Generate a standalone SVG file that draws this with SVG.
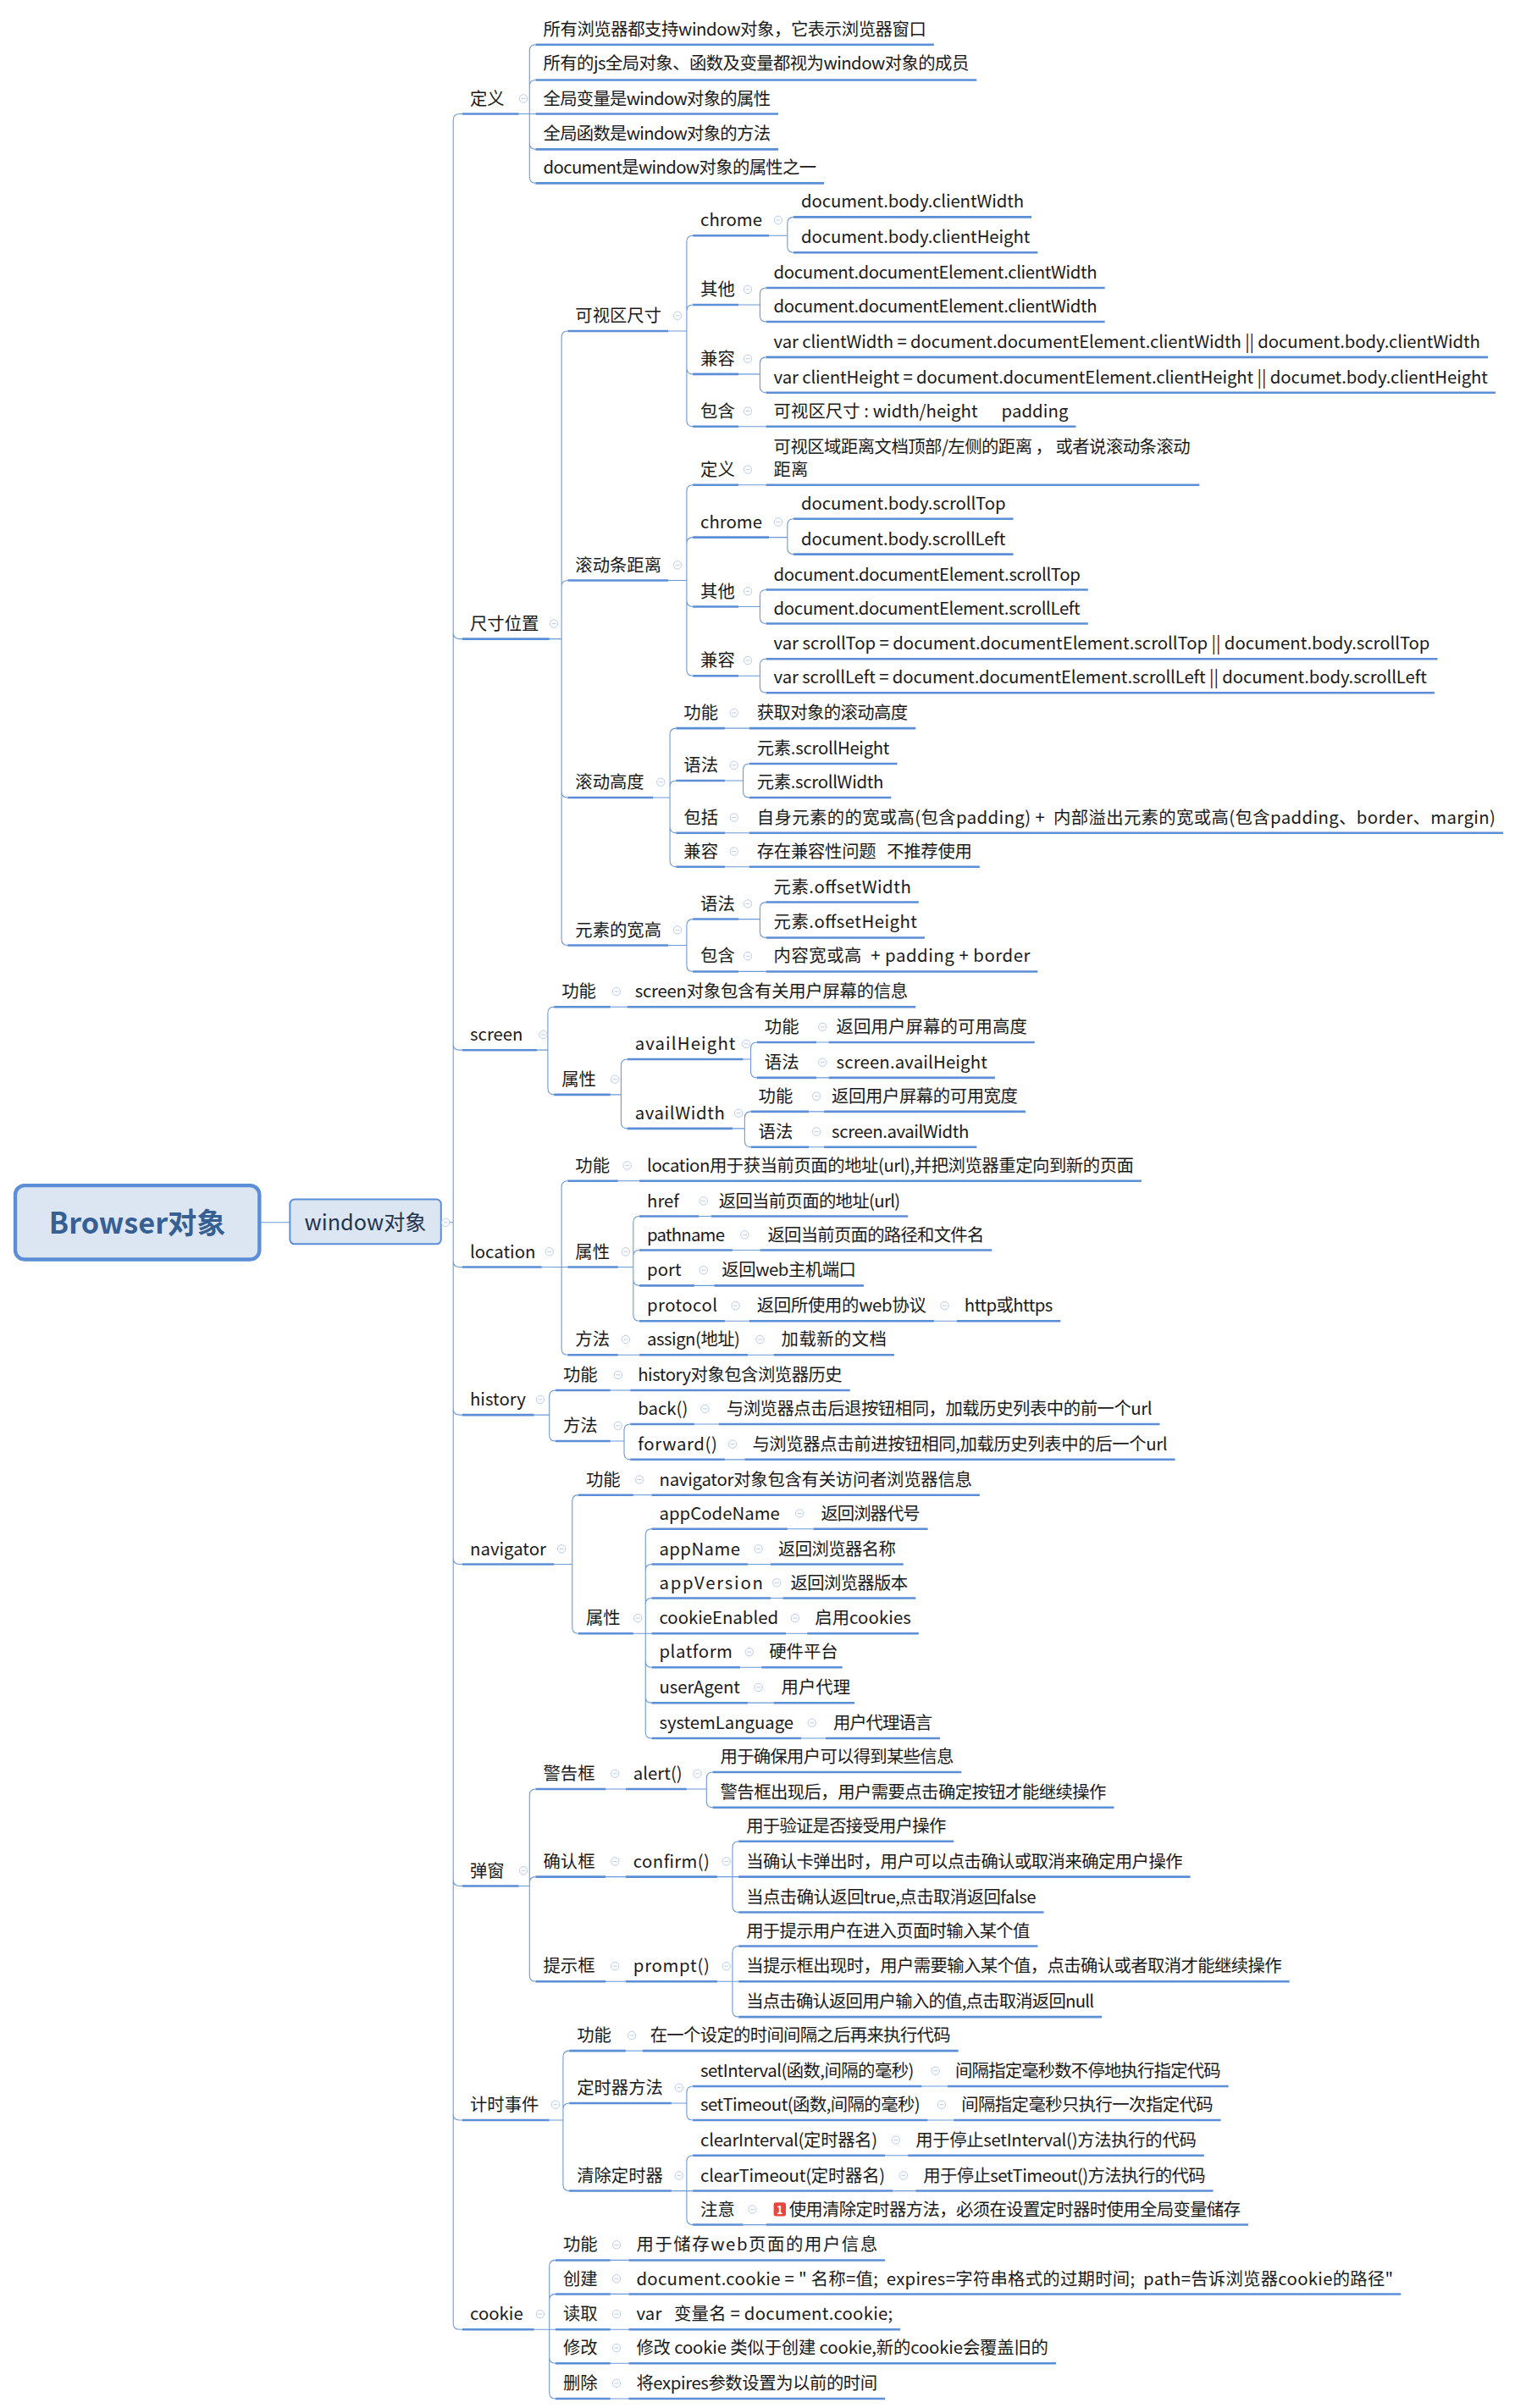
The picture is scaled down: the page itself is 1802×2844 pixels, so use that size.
<svg xmlns="http://www.w3.org/2000/svg" xmlns:xlink="http://www.w3.org/1999/xlink" width="1802" height="2844" viewBox="0 0 1802 2844">
<style>
text{font-family:"Noto Sans CJK SC","Noto Sans",sans-serif;font-size:11.3px;fill:#1a1a1a;white-space:pre}
.u{stroke:#5b8ed6;stroke-width:1.4;fill:none}
.k path{stroke:#6a98d8;stroke-width:.6;fill:none}
.c{fill:#fff;stroke:#b3c5ea;stroke-width:.5}
</style>
<defs>
<g id="m"><circle class="c" r="2.6"/><path d="M-1.4 0H1.4" stroke="#b3c5ea" stroke-width=".5"/></g>
</defs>
<rect width="1802" height="2844" fill="#fff"/>
<g transform="scale(1.802 1.8184)">
<g class="k" id="connectors">
<path d="M170 794H190"/>
<path d="M289 794H297V78Q297 74 301 74H303M297 794V411Q297 415 301 415H303M297 794V678Q297 682 301 682H303M297 794V819Q297 823 301 823H303M297 794V915Q297 919 301 919H303M297 794V1012Q297 1016 301 1016H303M297 794V1221Q297 1225 301 1225H303M297 794V1373Q297 1377 301 1377H303M297 794V1509Q297 1513 301 1513H303"/>
<path d="M340 74H347V33Q347 29 351 29M347 74V56Q347 52 351 52M340 74H351M347 74V93Q347 97 351 97M347 74V115Q347 119 351 119"/>
<path d="M360 415H368V219Q368 215 372 215M368 415V381Q368 377 372 377M368 415V514Q368 518 372 518M368 415V610Q368 614 372 614"/>
<path d="M438 215H450V157Q450 153 454 153M450 215V202Q450 198 454 198M450 215V239Q450 243 454 243M450 215V273Q450 277 454 277"/>
<path d="M504 153H516V145Q516 141 520 141M516 153V160Q516 164 520 164"/>
<path d="M484 198H498V191Q498 187 502 187M498 198V205Q498 209 502 209"/>
<path d="M484 243H498V236Q498 232 502 232M498 243V251Q498 255 502 255"/>
<path d="M484 277H502"/>
<path d="M438 377H450V319Q450 315 454 315M450 377V353Q450 349 454 349M450 377V390Q450 394 454 394M450 377V435Q450 439 454 439"/>
<path d="M484 315H502"/>
<path d="M504 349H516V341Q516 337 520 337M516 349V356Q516 360 520 360"/>
<path d="M484 394H498V387Q498 383 502 383M498 394V401Q498 405 502 405"/>
<path d="M484 439H498V432Q498 428 502 428M498 439V446Q498 450 502 450"/>
<path d="M428 518H439V477Q439 473 443 473M439 518V511Q439 507 443 507M439 518V537Q439 541 443 541M439 518V559Q439 563 443 563"/>
<path d="M475 473H491M475 541H491M475 563H491"/>
<path d="M475 507H487V500Q487 496 491 496M487 507V514Q487 518 491 518"/>
<path d="M438 614H450V601Q450 597 454 597M450 614V627Q450 631 454 631"/>
<path d="M484 597H498V590Q498 586 502 586M498 597V605Q498 609 502 609"/>
<path d="M484 631H502"/>
<path d="M352 682H359V658Q359 654 363 654M359 682V707Q359 711 363 711"/>
<path d="M400 654H411"/>
<path d="M400 711H407V692Q407 688 411 688M407 711V729Q407 733 411 733"/>
<path d="M487 688H492V681Q492 677 496 677M492 688V696Q492 700 496 700"/>
<path d="M535 677H543M535 700H543"/>
<path d="M480 733H488V726Q488 722 492 722M488 733V741Q488 745 492 745"/>
<path d="M530 722H540M530 745H540"/>
<path d="M355 823H368V771Q368 767 372 767M355 823H372M368 823V876Q368 880 372 880"/>
<path d="M405 767H419"/>
<path d="M405 823H415V794Q415 790 419 790M415 823V816Q415 812 419 812M415 823V831Q415 835 419 835M415 823V854Q415 858 419 858"/>
<path d="M458 790H466M480 812H498M455 835H468M475 858H491M612 858H627"/>
<path d="M405 880H419M490 880H507"/>
<path d="M350 919H360V907Q360 903 364 903M360 919V932Q360 936 364 936"/>
<path d="M400 903H413"/>
<path d="M400 936H409V929Q409 925 413 925M409 936V944Q409 948 413 948"/>
<path d="M455 925H471M475 948H488"/>
<path d="M363 1016H375V975Q375 971 379 971M375 1016V1057Q375 1061 379 1061"/>
<path d="M415 971H427"/>
<path d="M415 1061H423V997Q423 993 427 993M423 1061V1020Q423 1016 427 1016M423 1061V1042Q423 1038 427 1038M415 1061H427M423 1061V1079Q423 1083 427 1083M423 1061V1102Q423 1106 427 1106M423 1061V1125Q423 1129 427 1129"/>
<path d="M516 993H533M490 1016H505M505 1038H513M515 1061H529M485 1083H499M490 1106H507M525 1129H541"/>
<path d="M340 1225H347V1166Q347 1162 351 1162M347 1225V1223Q347 1219 351 1219M347 1225V1283Q347 1287 351 1287"/>
<path d="M397 1162H410M397 1219H410M397 1287H410"/>
<path d="M450 1162H463V1155Q463 1151 467 1151M463 1162V1170Q463 1174 467 1174"/>
<path d="M470 1219H480V1200Q480 1196 484 1196M470 1219H484M480 1219V1238Q480 1242 484 1242"/>
<path d="M470 1287H480V1268Q480 1264 484 1264M470 1287H484M480 1287V1306Q480 1310 484 1310"/>
<path d="M360 1377H369V1336Q369 1332 373 1332M369 1377V1370Q369 1366 373 1366M369 1377V1419Q369 1423 373 1423"/>
<path d="M410 1332H421"/>
<path d="M440 1366H450V1359Q450 1355 454 1355M450 1366V1373Q450 1377 454 1377"/>
<path d="M604 1355H621M608 1377H625"/>
<path d="M440 1423H450V1404Q450 1400 454 1400M440 1423H454M450 1423V1441Q450 1445 454 1445"/>
<path d="M580 1400H595M585 1423H600M487 1445H502"/>
<path d="M350 1513H360V1472Q360 1468 364 1468M360 1513V1494Q360 1490 364 1490M350 1513H364M360 1513V1531Q360 1535 364 1535M360 1513V1554Q360 1558 364 1558"/>
<path d="M400 1468H412M400 1490H412M400 1513H412M400 1535H412M400 1558H412"/>
</g>

<g id="root"><rect x="10" y="770" width="160" height="48" rx="6" fill="#dce6f2" stroke="#5b8ed6" stroke-width="2.4"/><text x="90" y="801" text-anchor="middle" style="font-size:19px;font-weight:bold;fill:#365f93">Browser对象</text></g>
<g id="window"><rect x="190" y="779" width="99" height="29" rx="3" fill="#dce6f2" stroke="#5b8ed6" stroke-width="1.1"/><text x="239.5" y="799" text-anchor="middle" style="font-size:14px;fill:#1f3550">window对象</text><use href="#m" x="292" y="794"/></g>

<g id="dingyi"><text x="308" y="68">定义</text><path class="u" d="M303 74H340"/><use href="#m" x="343" y="64"/></g>
<g id="d1"><text x="356" y="23" textLength="251">所有浏览器都支持window对象，它表示浏览器窗口</text><path class="u" d="M351 29H612"/></g>
<g id="d2"><text x="356" y="45" textLength="279">所有的js全局对象、函数及变量都视为window对象的成员</text><path class="u" d="M351 52H640"/></g>
<g id="d3"><text x="356" y="68" textLength="149">全局变量是window对象的属性</text><path class="u" d="M351 74H510"/></g>
<g id="d4"><text x="356" y="91" textLength="149">全局函数是window对象的方法</text><path class="u" d="M351 97H510"/></g>
<g id="d5"><text x="356" y="113" textLength="179">document是window对象的属性之一</text><path class="u" d="M351 119H540"/></g>

<g id="chicun"><text x="308" y="409">尺寸位置</text><path class="u" d="M303 415H360"/><use href="#m" x="363" y="405"/></g>
<g id="kszc"><text x="377" y="209">可视区尺寸</text><path class="u" d="M372 215H438"/><use href="#m" x="444" y="205"/></g>
<g id="k1"><text x="459" y="147">chrome</text><path class="u" d="M454 153H504"/><use href="#m" x="510" y="143"/></g>
<g id="k1a"><text x="525" y="135" textLength="146">document.body.clientWidth</text><path class="u" d="M520 141H676"/></g>
<g id="k1b"><text x="525" y="158" textLength="150">document.body.clientHeight</text><path class="u" d="M520 164H680"/></g>
<g id="k2"><text x="459" y="192">其他</text><path class="u" d="M454 198H484"/><use href="#m" x="490" y="188"/></g>
<g id="k2a"><text x="507" y="181" textLength="212">document.documentElement.clientWidth</text><path class="u" d="M502 187H724"/></g>
<g id="k2b"><text x="507" y="203" textLength="212">document.documentElement.clientWidth</text><path class="u" d="M502 209H724"/></g>
<g id="k3"><text x="459" y="237">兼容</text><path class="u" d="M454 243H484"/><use href="#m" x="490" y="233"/></g>
<g id="k3a"><text x="507" y="226" textLength="463">var clientWidth = document.documentElement.clientWidth || document.body.clientWidth</text><path class="u" d="M502 232H975"/></g>
<g id="k3b"><text x="507" y="249" textLength="468">var clientHeight = document.documentElement.clientHeight || documet.body.clientHeight</text><path class="u" d="M502 255H980"/></g>
<g id="k4"><text x="459" y="271">包含</text><path class="u" d="M454 277H484"/><use href="#m" x="490" y="267"/></g>
<g id="k4a"><text x="507" y="271" textLength="193">可视区尺寸 : width/height      padding</text><path class="u" d="M502 277H705"/></g>

<g id="gdtjl"><text x="377" y="371">滚动条距离</text><path class="u" d="M372 377H438"/><use href="#m" x="444" y="367"/></g>
<g id="g1"><text x="459" y="309">定义</text><path class="u" d="M454 315H484"/><use href="#m" x="490" y="305"/></g>
<g id="g1a"><text x="507" y="294" textLength="273">可视区域距离文档顶部/左侧的距离 ， 或者说滚动条滚动</text><text x="507" y="309">距离</text><path class="u" d="M502 315H786"/></g>
<g id="g2"><text x="459" y="343">chrome</text><path class="u" d="M454 349H504"/><use href="#m" x="510" y="339"/></g>
<g id="g2a"><text x="525" y="331" textLength="134">document.body.scrollTop</text><path class="u" d="M520 337H664"/></g>
<g id="g2b"><text x="525" y="354" textLength="134">document.body.scrollLeft</text><path class="u" d="M520 360H664"/></g>
<g id="g3"><text x="459" y="388">其他</text><path class="u" d="M454 394H484"/><use href="#m" x="490" y="384"/></g>
<g id="g3a"><text x="507" y="377" textLength="201">document.documentElement.scrollTop</text><path class="u" d="M502 383H713"/></g>
<g id="g3b"><text x="507" y="399" textLength="201">document.documentElement.scrollLeft</text><path class="u" d="M502 405H713"/></g>
<g id="g4"><text x="459" y="433">兼容</text><path class="u" d="M454 439H484"/><use href="#m" x="490" y="429"/></g>
<g id="g4a"><text x="507" y="422" textLength="430">var scrollTop = document.documentElement.scrollTop || document.body.scrollTop</text><path class="u" d="M502 428H942"/></g>
<g id="g4b"><text x="507" y="444" textLength="428">var scrollLeft = document.documentElement.scrollLeft || document.body.scrollLeft</text><path class="u" d="M502 450H940"/></g>

<g id="gdgd"><text x="377" y="512">滚动高度</text><path class="u" d="M372 518H428"/><use href="#m" x="433" y="508"/></g>
<g id="h1"><text x="448" y="467">功能</text><path class="u" d="M443 473H475"/><use href="#m" x="481" y="463"/></g>
<g id="h1a"><text x="496" y="467" textLength="99">获取对象的滚动高度</text><path class="u" d="M491 473H600"/></g>
<g id="h2"><text x="448" y="501">语法</text><path class="u" d="M443 507H475"/><use href="#m" x="481" y="497"/></g>
<g id="h2a"><text x="496" y="490" textLength="87">元素.scrollHeight</text><path class="u" d="M491 496H588"/></g>
<g id="h2b"><text x="496" y="512" textLength="83">元素.scrollWidth</text><path class="u" d="M491 518H584"/></g>
<g id="h3"><text x="448" y="535">包括</text><path class="u" d="M443 541H475"/><use href="#m" x="481" y="531"/></g>
<g id="h3a"><text x="496" y="535" textLength="484">自身元素的的宽或高(包含padding) +  内部溢出元素的宽或高(包含padding、border、margin)</text><path class="u" d="M491 541H985"/></g>
<g id="h4"><text x="448" y="557">兼容</text><path class="u" d="M443 563H475"/><use href="#m" x="481" y="553"/></g>
<g id="h4a"><text x="496" y="557" textLength="141">存在兼容性问题   不推荐使用</text><path class="u" d="M491 563H642"/></g>

<g id="ysdkg"><text x="377" y="608">元素的宽高</text><path class="u" d="M372 614H438"/><use href="#m" x="444" y="604"/></g>
<g id="o1"><text x="459" y="591">语法</text><path class="u" d="M454 597H484"/><use href="#m" x="490" y="587"/></g>
<g id="o1a"><text x="507" y="580" textLength="90">元素.offsetWidth</text><path class="u" d="M502 586H602"/></g>
<g id="o1b"><text x="507" y="603" textLength="94">元素.offsetHeight</text><path class="u" d="M502 609H606"/></g>
<g id="o2"><text x="459" y="625">包含</text><path class="u" d="M454 631H484"/><use href="#m" x="490" y="621"/></g>
<g id="o2a"><text x="507" y="625" textLength="168">内容宽或高  + padding + border</text><path class="u" d="M502 631H680"/></g>

<g id="screen"><text x="308" y="676">screen</text><path class="u" d="M303 682H352"/><use href="#m" x="356" y="672"/></g>
<g id="s1"><text x="368" y="648">功能</text><path class="u" d="M363 654H400"/><use href="#m" x="404" y="644"/></g>
<g id="s1a"><text x="416" y="648" textLength="179">screen对象包含有关用户屏幕的信息</text><path class="u" d="M411 654H600"/></g>
<g id="s2"><text x="368" y="705">属性</text><path class="u" d="M363 711H400"/><use href="#m" x="403" y="701"/></g>
<g id="ah"><text x="416" y="682" textLength="66">availHeight</text><path class="u" d="M411 688H487"/><use href="#m" x="489" y="678"/></g>
<g id="ah1"><text x="501" y="671">功能</text><path class="u" d="M496 677H535"/><use href="#m" x="539" y="667"/></g>
<g id="ah1a"><text x="548" y="671" textLength="125">返回用户屏幕的可用高度</text><path class="u" d="M543 677H678"/></g>
<g id="ah2"><text x="501" y="694">语法</text><path class="u" d="M496 700H535"/><use href="#m" x="539" y="690"/></g>
<g id="ah2a"><text x="548" y="694" textLength="99">screen.availHeight</text><path class="u" d="M543 700H652"/></g>
<g id="aw"><text x="416" y="727" textLength="59">availWidth</text><path class="u" d="M411 733H480"/><use href="#m" x="484" y="723"/></g>
<g id="aw1"><text x="497" y="716">功能</text><path class="u" d="M492 722H530"/><use href="#m" x="535" y="712"/></g>
<g id="aw1a"><text x="545" y="716" textLength="122">返回用户屏幕的可用宽度</text><path class="u" d="M540 722H672"/></g>
<g id="aw2"><text x="497" y="739">语法</text><path class="u" d="M492 745H530"/><use href="#m" x="535" y="735"/></g>
<g id="aw2a"><text x="545" y="739" textLength="90">screen.availWidth</text><path class="u" d="M540 745H640"/></g>

<g id="location"><text x="308" y="817">location</text><path class="u" d="M303 823H355"/><use href="#m" x="360" y="813"/></g>
<g id="l1"><text x="377" y="761">功能</text><path class="u" d="M372 767H405"/><use href="#m" x="411" y="757"/></g>
<g id="l1a"><text x="424" y="761" textLength="319">location用于获当前页面的地址(url),并把浏览器重定向到新的页面</text><path class="u" d="M419 767H748"/></g>
<g id="l2"><text x="377" y="817">属性</text><path class="u" d="M372 823H405"/><use href="#m" x="410" y="813"/></g>
<g id="href"><text x="424" y="784">href</text><path class="u" d="M419 790H458"/><use href="#m" x="461" y="780"/></g>
<g id="hrefa"><text x="471" y="784" textLength="119">返回当前页面的地址(url)</text><path class="u" d="M466 790H595"/></g>
<g id="pathname"><text x="424" y="806" textLength="51">pathname</text><path class="u" d="M419 812H480"/><use href="#m" x="488" y="802"/></g>
<g id="pathnamea"><text x="503" y="806" textLength="142">返回当前页面的路径和文件名</text><path class="u" d="M498 812H650"/></g>
<g id="port"><text x="424" y="829">port</text><path class="u" d="M419 835H455"/><use href="#m" x="461" y="825"/></g>
<g id="porta"><text x="473" y="829" textLength="88">返回web主机端口</text><path class="u" d="M468 835H566"/></g>
<g id="protocol"><text x="424" y="852" textLength="46">protocol</text><path class="u" d="M419 858H475"/><use href="#m" x="482" y="848"/></g>
<g id="protocola"><text x="496" y="852" textLength="111">返回所使用的web协议</text><path class="u" d="M491 858H612"/><use href="#m" x="619" y="848"/></g>
<g id="protocolb"><text x="632" y="852" textLength="58">http或https</text><path class="u" d="M627 858H695"/></g>
<g id="l3"><text x="377" y="874">方法</text><path class="u" d="M372 880H405"/><use href="#m" x="410" y="870"/></g>
<g id="assign"><text x="424" y="874" textLength="61">assign(地址)</text><path class="u" d="M419 880H490"/><use href="#m" x="498" y="870"/></g>
<g id="assigna"><text x="512" y="874" textLength="69">加载新的文档</text><path class="u" d="M507 880H586"/></g>

<g id="history"><text x="308" y="913">history</text><path class="u" d="M303 919H350"/><use href="#m" x="354" y="909"/></g>
<g id="hi1"><text x="369" y="897">功能</text><path class="u" d="M364 903H400"/><use href="#m" x="405" y="893"/></g>
<g id="hi1a"><text x="418" y="897" textLength="134">history对象包含浏览器历史</text><path class="u" d="M413 903H557"/></g>
<g id="hi2"><text x="369" y="930">方法</text><path class="u" d="M364 936H400"/><use href="#m" x="405" y="926"/></g>
<g id="back"><text x="418" y="919">back()</text><path class="u" d="M413 925H455"/><use href="#m" x="462" y="915"/></g>
<g id="backa"><text x="476" y="919" textLength="279">与浏览器点击后退按钮相同，加载历史列表中的前一个url</text><path class="u" d="M471 925H760"/></g>
<g id="forward"><text x="418" y="942" textLength="52">forward()</text><path class="u" d="M413 948H475"/><use href="#m" x="480" y="938"/></g>
<g id="forwarda"><text x="493" y="942" textLength="272">与浏览器点击前进按钮相同,加载历史列表中的后一个url</text><path class="u" d="M488 948H770"/></g>

<g id="navigator"><text x="308" y="1010">navigator</text><path class="u" d="M303 1016H363"/><use href="#m" x="368" y="1006"/></g>
<g id="n1"><text x="384" y="965">功能</text><path class="u" d="M379 971H415"/><use href="#m" x="419" y="961"/></g>
<g id="n1a"><text x="432" y="965" textLength="205">navigator对象包含有关访问者浏览器信息</text><path class="u" d="M427 971H642"/></g>
<g id="n2"><text x="384" y="1055">属性</text><path class="u" d="M379 1061H415"/><use href="#m" x="418" y="1051"/></g>
<g id="acn"><text x="432" y="987" textLength="79">appCodeName</text><path class="u" d="M427 993H516"/><use href="#m" x="524" y="983"/></g>
<g id="acna"><text x="538" y="987" textLength="65">返回浏器代号</text><path class="u" d="M533 993H608"/></g>
<g id="an"><text x="432" y="1010" textLength="53">appName</text><path class="u" d="M427 1016H490"/><use href="#m" x="497" y="1006"/></g>
<g id="ana"><text x="510" y="1010" textLength="77">返回浏览器名称</text><path class="u" d="M505 1016H592"/></g>
<g id="av"><text x="432" y="1032" textLength="68">appVersion</text><path class="u" d="M427 1038H505"/><use href="#m" x="509" y="1028"/></g>
<g id="ava"><text x="518" y="1032" textLength="77">返回浏览器版本</text><path class="u" d="M513 1038H600"/></g>
<g id="ce"><text x="432" y="1055" textLength="78">cookieEnabled</text><path class="u" d="M427 1061H515"/><use href="#m" x="521" y="1051"/></g>
<g id="cea"><text x="534" y="1055" textLength="63">启用cookies</text><path class="u" d="M529 1061H602"/></g>
<g id="pf"><text x="432" y="1077" textLength="48">platform</text><path class="u" d="M427 1083H485"/><use href="#m" x="491" y="1073"/></g>
<g id="pfa"><text x="504" y="1077">硬件平台</text><path class="u" d="M499 1083H552"/></g>
<g id="ua"><text x="432" y="1100" textLength="53">userAgent</text><path class="u" d="M427 1106H490"/><use href="#m" x="497" y="1096"/></g>
<g id="uaa"><text x="512" y="1100">用户代理</text><path class="u" d="M507 1106H560"/></g>
<g id="sl"><text x="432" y="1123" textLength="88">systemLanguage</text><path class="u" d="M427 1129H525"/><use href="#m" x="532" y="1119"/></g>
<g id="sla"><text x="546" y="1123" textLength="65">用户代理语言</text><path class="u" d="M541 1129H616"/></g>

<g id="tanchuang"><text x="308" y="1219">弹窗</text><path class="u" d="M303 1225H340"/><use href="#m" x="343" y="1215"/></g>
<g id="jgk"><text x="356" y="1156">警告框</text><path class="u" d="M351 1162H397"/><use href="#m" x="403" y="1152"/></g>
<g id="alert"><text x="415" y="1156">alert()</text><path class="u" d="M410 1162H450"/><use href="#m" x="457" y="1152"/></g>
<g id="alert1"><text x="472" y="1145" textLength="153">用于确保用户可以得到某些信息</text><path class="u" d="M467 1151H630"/></g>
<g id="alert2"><text x="472" y="1168" textLength="253">警告框出现后，用户需要点击确定按钮才能继续操作</text><path class="u" d="M467 1174H730"/></g>
<g id="qrk"><text x="356" y="1213">确认框</text><path class="u" d="M351 1219H397"/><use href="#m" x="403" y="1209"/></g>
<g id="confirm"><text x="415" y="1213" textLength="50">confirm()</text><path class="u" d="M410 1219H470"/><use href="#m" x="476" y="1209"/></g>
<g id="confirm1"><text x="489" y="1190" textLength="131">用于验证是否接受用户操作</text><path class="u" d="M484 1196H625"/></g>
<g id="confirm2"><text x="489" y="1213" textLength="286">当确认卡弹出时，用户可以点击确认或取消来确定用户操作</text><path class="u" d="M484 1219H780"/></g>
<g id="confirm3"><text x="489" y="1236" textLength="190">当点击确认返回true,点击取消返回false</text><path class="u" d="M484 1242H684"/></g>
<g id="tsk"><text x="356" y="1281">提示框</text><path class="u" d="M351 1287H397"/><use href="#m" x="403" y="1277"/></g>
<g id="prompt"><text x="415" y="1281" textLength="50">prompt()</text><path class="u" d="M410 1287H470"/><use href="#m" x="476" y="1277"/></g>
<g id="prompt1"><text x="489" y="1258" textLength="186">用于提示用户在进入页面时输入某个值</text><path class="u" d="M484 1264H680"/></g>
<g id="prompt2"><text x="489" y="1281" textLength="351">当提示框出现时，用户需要输入某个值，点击确认或者取消才能继续操作</text><path class="u" d="M484 1287H845"/></g>
<g id="prompt3"><text x="489" y="1304" textLength="228">当点击确认返回用户输入的值,点击取消返回null</text><path class="u" d="M484 1310H722"/></g>

<g id="jishi"><text x="308" y="1371">计时事件</text><path class="u" d="M303 1377H360"/><use href="#m" x="364" y="1367"/></g>
<g id="t1"><text x="378" y="1326">功能</text><path class="u" d="M373 1332H410"/><use href="#m" x="414" y="1322"/></g>
<g id="t1a"><text x="426" y="1326" textLength="197">在一个设定的时间间隔之后再来执行代码</text><path class="u" d="M421 1332H628"/></g>
<g id="t2"><text x="378" y="1360">定时器方法</text><path class="u" d="M373 1366H440"/><use href="#m" x="445" y="1356"/></g>
<g id="si"><text x="459" y="1349" textLength="140">setInterval(函数,间隔的毫秒)</text><path class="u" d="M454 1355H604"/><use href="#m" x="613" y="1345"/></g>
<g id="sia"><text x="626" y="1349" textLength="174">间隔指定毫秒数不停地执行指定代码</text><path class="u" d="M621 1355H805"/></g>
<g id="st"><text x="459" y="1371" textLength="144">setTimeout(函数,间隔的毫秒)</text><path class="u" d="M454 1377H608"/><use href="#m" x="617" y="1367"/></g>
<g id="sta"><text x="630" y="1371" textLength="165">间隔指定毫秒只执行一次指定代码</text><path class="u" d="M625 1377H800"/></g>
<g id="t3"><text x="378" y="1417">清除定时器</text><path class="u" d="M373 1423H440"/><use href="#m" x="445" y="1413"/></g>
<g id="ci"><text x="459" y="1394" textLength="116">clearInterval(定时器名)</text><path class="u" d="M454 1400H580"/><use href="#m" x="587" y="1390"/></g>
<g id="cia"><text x="600" y="1394" textLength="184">用于停止setInterval()方法执行的代码</text><path class="u" d="M595 1400H789"/></g>
<g id="ct"><text x="459" y="1417" textLength="121">clearTimeout(定时器名)</text><path class="u" d="M454 1423H585"/><use href="#m" x="592" y="1413"/></g>
<g id="cta"><text x="605" y="1417" textLength="185">用于停止setTimeout()方法执行的代码</text><path class="u" d="M600 1423H795"/></g>
<g id="zy"><text x="459" y="1439">注意</text><path class="u" d="M454 1445H487"/><use href="#m" x="493" y="1435"/></g>
<g id="zya"><rect x="507" y="1430.5" width="8" height="9" rx="1.5" fill="#e8473e"/><text x="511" y="1438" text-anchor="middle" style="font-size:7px;fill:#fff;font-weight:bold">1</text><text x="517" y="1439" textLength="296">使用清除定时器方法，必须在设置定时器时使用全局变量储存</text><path class="u" d="M502 1445H818"/></g>

<g id="cookie"><text x="308" y="1507">cookie</text><path class="u" d="M303 1513H350"/><use href="#m" x="354" y="1503"/></g>
<g id="c1"><text x="369" y="1462">功能</text><path class="u" d="M364 1468H400"/><use href="#m" x="404" y="1458"/></g>
<g id="c1a"><text x="417" y="1462" textLength="158">用于储存web页面的用户信息</text><path class="u" d="M412 1468H580"/></g>
<g id="c2"><text x="369" y="1484">创建</text><path class="u" d="M364 1490H400"/><use href="#m" x="404" y="1480"/></g>
<g id="c2a"><text x="417" y="1484" textLength="496">document.cookie = " 名称=值;  expires=字符串格式的过期时间;  path=告诉浏览器cookie的路径"</text><path class="u" d="M412 1490H918"/></g>
<g id="c3"><text x="369" y="1507">读取</text><path class="u" d="M364 1513H400"/><use href="#m" x="404" y="1503"/></g>
<g id="c3a"><text x="417" y="1507" textLength="168">var   变量名 = document.cookie;</text><path class="u" d="M412 1513H590"/></g>
<g id="c4"><text x="369" y="1529">修改</text><path class="u" d="M364 1535H400"/><use href="#m" x="404" y="1525"/></g>
<g id="c4a"><text x="417" y="1529" textLength="270">修改 cookie 类似于创建 cookie,新的cookie会覆盖旧的</text><path class="u" d="M412 1535H692"/></g>
<g id="c5"><text x="369" y="1552">删除</text><path class="u" d="M364 1558H400"/><use href="#m" x="404" y="1548"/></g>
<g id="c5a"><text x="417" y="1552" textLength="158">将expires参数设置为以前的时间</text><path class="u" d="M412 1558H580"/></g>
</g>
</svg>
